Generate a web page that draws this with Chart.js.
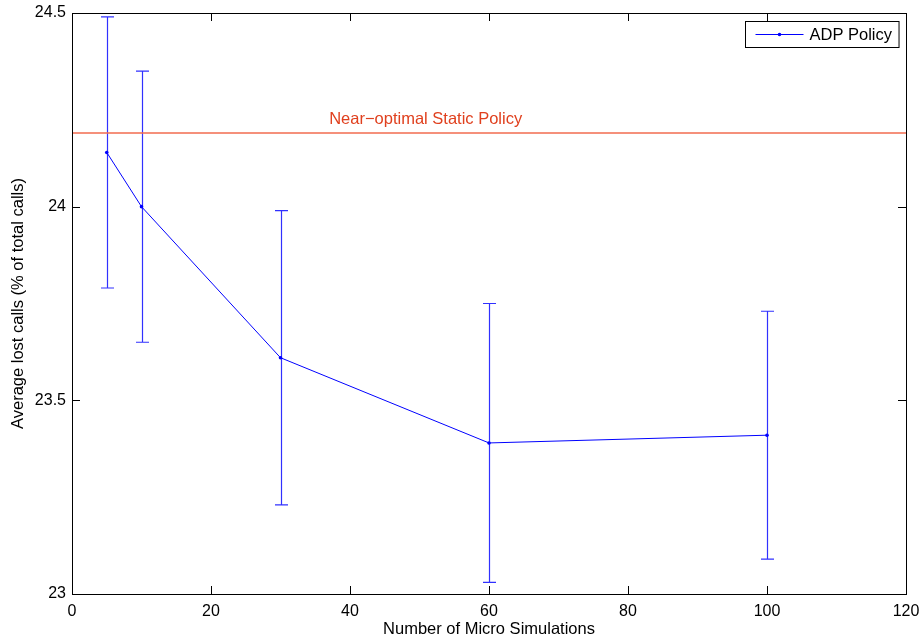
<!DOCTYPE html>
<html>
<head>
<meta charset="utf-8">
<script src="https://cdn.jsdelivr.net/npm/chart.js@4.4.1/dist/chart.umd.min.js"></script>
<style>
  body { margin: 0; background: #fff; }
  #wrap { width: 922px; height: 641px; position: relative; }
</style>
</head>
<body>
<div id="wrap"><canvas id="plot"></canvas></div>
<script>
// data
const microSims = [5, 10, 30, 60, 100];
const adpMean = [24.14, 24.00, 23.61, 23.39, 23.41];
const adpUpper = [24.49, 24.35, 23.99, 23.75, 23.73];
const adpLower = [23.79, 23.65, 23.23, 23.03, 23.09];
const staticPolicy = 24.19;
const staticLabel = 'Near\u2212optimal Static Policy';
const xTicks = [0, 20, 40, 60, 80, 100, 120];
const yTicks = [23, 23.5, 24, 24.5];

const FONT = "'Liberation Sans', Arial, Helvetica, sans-serif";
const BLUE = '#0000ff';
const RED_LINE = '#f26b4f';
const RED_TEXT = '#e0401e';

// error bars, box, inward ticks, static label and legend
const extras = {
  id: 'extras',
  beforeDatasetsDraw(chart) {
    const c = chart.ctx;
    const xs = chart.scales.x, ys = chart.scales.y;
    c.save();
    c.strokeStyle = '#3030ff';
    c.lineWidth = 1.2;
    microSims.forEach((m, i) => {
      const px = Math.round(xs.getPixelForValue(m)) + 0.5;
      const top = ys.getPixelForValue(adpUpper[i]);
      const bot = ys.getPixelForValue(adpLower[i]);
      c.beginPath();
      c.moveTo(px, top); c.lineTo(px, bot);
      c.moveTo(px - 6.5, top); c.lineTo(px + 6.5, top);
      c.moveTo(px - 6.5, bot); c.lineTo(px + 6.5, bot);
      c.stroke();
    });
    c.restore();
  },
  afterDraw(chart) {
    const c = chart.ctx;
    const a = chart.chartArea;
    const xs = chart.scales.x, ys = chart.scales.y;
    c.save();
    c.strokeStyle = '#000';
    c.lineWidth = 1;
    c.strokeRect(Math.round(a.left) + 0.5, Math.round(a.top) + 0.5,
      Math.round(a.right - a.left), Math.round(a.bottom - a.top));
    c.beginPath();
    xTicks.forEach(v => {
      const px = Math.round(xs.getPixelForValue(v)) + 0.5;
      c.moveTo(px, a.bottom); c.lineTo(px, a.bottom - 8);
      c.moveTo(px, a.top); c.lineTo(px, a.top + 8);
    });
    yTicks.forEach(v => {
      const py = Math.round(ys.getPixelForValue(v)) + 0.5;
      c.moveTo(a.left, py); c.lineTo(a.left + 8, py);
      c.moveTo(a.right, py); c.lineTo(a.right - 8, py);
    });
    c.stroke();

    // label above the static policy line
    c.font = '16.5px ' + FONT;
    c.fillStyle = RED_TEXT;
    c.textAlign = 'left';
    c.textBaseline = 'alphabetic';
    c.fillText(staticLabel, xs.getPixelForValue(37), ys.getPixelForValue(staticPolicy) - 9);

    // legend box, top right inside the axes
    const ds = chart.data.datasets[0];
    const tw = c.measureText(ds.label).width;
    const bw = 64 + tw + 7, bh = 26;
    const bx = Math.round(a.right - 7 - bw) + 0.5, by = Math.round(a.top + 8) + 0.5;
    c.fillStyle = '#fff';
    c.fillRect(bx, by, bw, bh);
    c.strokeStyle = '#000';
    c.strokeRect(bx, by, bw, bh);
    c.strokeStyle = BLUE;
    c.beginPath();
    c.moveTo(bx + 10, by + 13); c.lineTo(bx + 58, by + 13);
    c.stroke();
    c.fillStyle = BLUE;
    c.beginPath();
    c.arc(bx + 34, by + 13, 1.8, 0, Math.PI * 2);
    c.fill();
    c.fillStyle = '#000';
    c.textBaseline = 'middle';
    c.fillText(ds.label, bx + 64, by + 14);
    c.restore();
  }
};

const ctx = document.getElementById('plot');

new Chart(ctx, {
  type: 'scatter',
  data: {
    datasets: [{
      label: 'ADP Policy',
      data: microSims.map((m, i) => ({x: m, y: adpMean[i]})),
      showLine: true,
      borderColor: BLUE,
      backgroundColor: BLUE,
      borderWidth: 1,
      pointRadius: 1.8,
      pointBorderWidth: 0
    }, {
      label: 'Near-optimal Static Policy',
      data: [{x: xTicks[0], y: staticPolicy}, {x: xTicks[xTicks.length - 1], y: staticPolicy}],
      showLine: true,
      borderColor: RED_LINE,
      borderWidth: 1.6,
      pointRadius: 0
    }]
  },
  options: {
    responsive: true,
    maintainAspectRatio: false,
    animation: false,
    layout: {padding: {top: 13, right: 16, left: 0, bottom: 0}},
    plugins: {legend: {display: false}, tooltip: {enabled: false}},
    scales: {
      x: {
        type: 'linear', min: 0, max: 120,
        afterBuildTicks: s => { s.ticks = xTicks.map(v => ({value: v})); },
        afterFit: s => { s.height = 47; s.paddingLeft = 0; s.paddingRight = 0; },
        grid: {display: false, drawTicks: false},
        border: {display: false},
        ticks: {color: '#000', padding: 8, font: {family: FONT, size: 16},
          callback: v => String(v)},
        title: {display: true, text: 'Number of Micro Simulations', color: '#000',
          padding: {top: 0, bottom: 2}, font: {family: FONT, size: 16.5}}
      },
      y: {
        type: 'linear', min: 23, max: 24.5,
        afterBuildTicks: s => { s.ticks = yTicks.map(v => ({value: v})); },
        afterFit: s => { s.width = 72; s.paddingTop = 0; s.paddingBottom = 0; },
        grid: {display: false, drawTicks: false},
        border: {display: false},
        ticks: {color: '#000', padding: 6, font: {family: FONT, size: 16},
          callback: v => String(v)},
        title: {display: true, text: 'Average lost calls (% of total calls)', color: '#000',
          padding: {top: 9, bottom: 0}, font: {family: FONT, size: 16.5}}
      }
    }
  },
  plugins: [extras]
});
</script>
</body>
</html>
